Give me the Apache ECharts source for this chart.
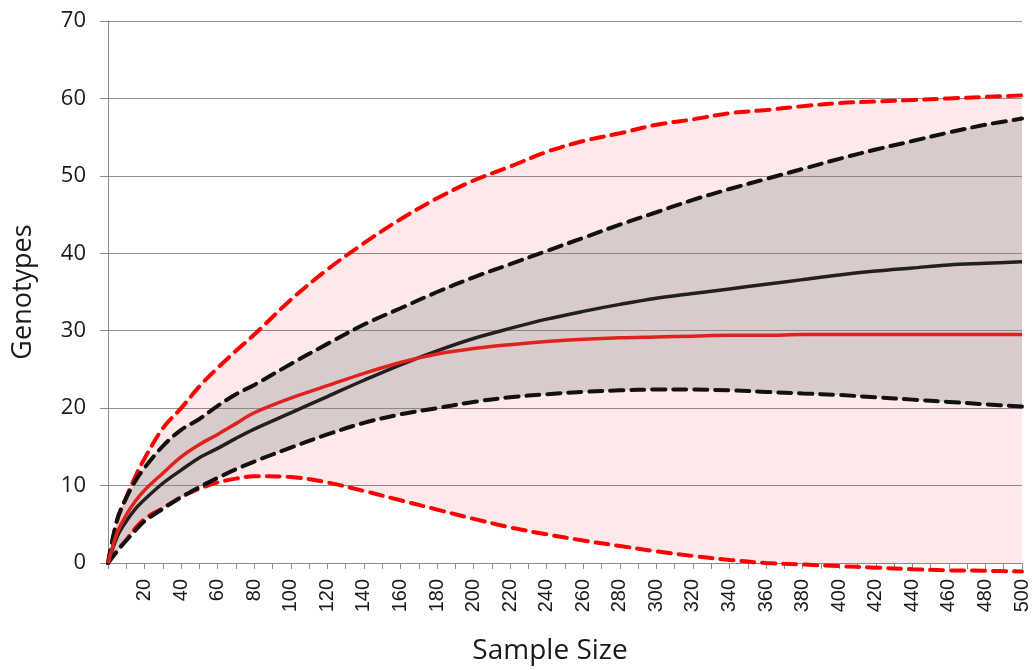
<!DOCTYPE html>
<html>
<head>
<meta charset="utf-8">
<script src="https://cdn.jsdelivr.net/npm/echarts@6/dist/echarts.min.js"></script>
<style>
html,body{margin:0;padding:0;background:#fff;}
#c{width:1034px;height:670px;}
</style>
</head>
<body>
<div id="c"></div>
<script>
// Sample sizes at which values were read
const sampleSize = [0,5,10,15,20,30,40,50,60,70,80,100,120,140,160,180,200,220,240,260,280,300,320,340,360,380,400,420,440,460,480,500];
// Red model: upper / lower bounds (dashed) and mean (solid)
const redUpper = [0,5.5,8.5,11.2,13.5,17.4,20.0,22.8,25.2,27.4,29.5,34.0,37.9,41.3,44.4,47.1,49.4,51.2,53.1,54.5,55.5,56.6,57.3,58.1,58.5,59.0,59.4,59.6,59.8,60.0,60.2,60.4];
const redLower = [0,1.6,3.0,4.5,5.7,7.1,8.5,9.6,10.4,10.9,11.2,11.1,10.4,9.3,8.1,6.9,5.7,4.6,3.7,2.9,2.2,1.5,0.9,0.4,0.0,-0.2,-0.4,-0.6,-0.8,-0.95,-1.0,-1.1];
const redMean  = [0,3.9,6.2,8.0,9.4,11.6,13.7,15.3,16.6,18.0,19.4,21.3,22.9,24.5,25.9,27.0,27.7,28.2,28.6,28.9,29.1,29.2,29.3,29.4,29.4,29.5,29.5,29.5,29.5,29.5,29.5,29.5];
// Black model: upper / lower bounds (dashed) and mean (solid)
const blackUpper = [0,5.6,8.4,10.6,12.3,15.1,17.2,18.6,20.3,21.8,23.0,25.7,28.3,30.8,32.9,35.0,36.9,38.6,40.3,42.0,43.7,45.3,46.9,48.3,49.6,50.9,52.2,53.4,54.5,55.6,56.6,57.4];
const blackLower = [0,1.5,2.9,4.2,5.4,7.0,8.5,9.8,11.0,12.1,13.1,14.9,16.6,18.1,19.2,20.0,20.8,21.4,21.8,22.1,22.3,22.4,22.4,22.3,22.1,21.9,21.7,21.4,21.1,20.8,20.5,20.2];
const blackMean  = [0,3.4,5.4,7.0,8.2,10.3,12.0,13.6,14.8,16.1,17.3,19.4,21.5,23.6,25.6,27.4,29.0,30.3,31.5,32.5,33.4,34.2,34.8,35.4,36.0,36.6,37.2,37.7,38.1,38.5,38.7,38.9];
// Axis ticks
const yTicks = [0,10,20,30,40,50,60,70];
const xMax = 500;

const pairs = arr => sampleSize.map((x,i)=>[x,arr[i]]);
// for stacked band series: value first so that stacking happens on y
const yxPairs = arr => sampleSize.map((x,i)=>[arr[i], x]);
const yxDiff = (a,b) => sampleSize.map((x,i)=>[+(a[i]-b[i]).toFixed(3), x]);

const SM = 0.35;
const chart = echarts.init(document.getElementById('c'), null, {renderer:'canvas'});
const FONT = '"Open Sans", "DejaVu Sans", sans-serif';
const bandCommon = {type:'line', smooth:SM, symbol:'none', stackStrategy:'all', encode:{x:1, y:0},
  lineStyle:{width:0, opacity:0}, silent:true};
chart.setOption({
  animation: false,
  backgroundColor: '#ffffff',
  grid: {left:108, right:12, top:21, bottom:107, containLabel:false},
  xAxis: {
    type:'value', min:0, max:xMax, interval:10,
    name:'Sample Size', nameLocation:'middle', nameGap:74,
    nameTextStyle:{fontFamily:FONT, fontSize:28, color:'#1a1a1a', padding:[0,30,0,0]},
    axisLine:{show:true, lineStyle:{color:'#8a8a8a', width:1}},
    axisTick:{show:true, length:6, lineStyle:{color:'#8a8a8a'}},
    axisLabel:{rotate:90, margin:16, fontFamily:'"Liberation Sans", Arial, sans-serif', fontSize:20, color:'#1a1a1a',
      formatter: v => (v>0 && v%20===0) ? String(v) : ''},
    splitLine:{show:false}
  },
  yAxis: {
    type:'value', min:yTicks[0], max:yTicks[yTicks.length-1], interval:10,
    name:'Genotypes', nameLocation:'middle', nameGap:71,
    nameTextStyle:{fontFamily:FONT, fontSize:27, color:'#1a1a1a'},
    axisLine:{show:true, lineStyle:{color:'#8a8a8a', width:1}},
    axisTick:{show:true, length:8, lineStyle:{color:'#8a8a8a'}},
    axisLabel:{margin:22, fontFamily:FONT, fontSize:22, color:'#1a1a1a'},
    splitLine:{show:true, lineStyle:{color:'#8f8f8f', width:1}}
  },
  series: [
    Object.assign({}, bandCommon, {name:'redBase', data:yxPairs(redLower), stack:'red'}),
    Object.assign({}, bandCommon, {name:'redBand', data:yxDiff(redUpper, redLower), stack:'red',
      areaStyle:{color:'rgba(235,40,40,0.1)', opacity:1}}),
    Object.assign({}, bandCommon, {name:'blackBase', data:yxPairs(blackLower), stack:'black'}),
    Object.assign({}, bandCommon, {name:'blackBand', data:yxDiff(blackUpper, blackLower), stack:'black',
      areaStyle:{color:'rgba(136,136,136,0.3)', opacity:1}}),
    {type:'line', name:'Red upper', data:pairs(redUpper), smooth:SM, symbol:'none',
     lineStyle:{color:'#ff0000', width:4, type:[13,8], cap:'round'}},
    {type:'line', name:'Red lower', data:pairs(redLower), smooth:SM, symbol:'none', clip:false,
     lineStyle:{color:'#ff0000', width:4, type:[13,8], cap:'round'}},
    {type:'line', name:'Black upper', data:pairs(blackUpper), smooth:SM, symbol:'none',
     lineStyle:{color:'#111111', width:4, type:[13,8], cap:'round'}},
    {type:'line', name:'Black lower', data:pairs(blackLower), smooth:SM, symbol:'none',
     lineStyle:{color:'#111111', width:4, type:[13,8], cap:'round'}},
    {type:'line', name:'Black mean', data:pairs(blackMean), smooth:SM, symbol:'none',
     lineStyle:{color:'#231f20', width:3.5}},
    {type:'line', name:'Red mean', data:pairs(redMean), smooth:SM, symbol:'none',
     lineStyle:{color:'#e0221f', width:3.5}}
  ]
});
</script>
</body>
</html>
